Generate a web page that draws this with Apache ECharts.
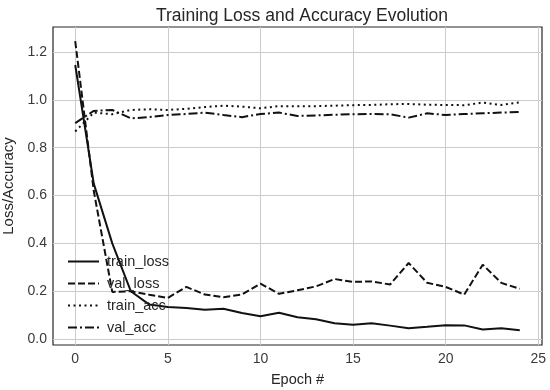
<!DOCTYPE html>
<html>
<head>
<meta charset="utf-8">
<script src="https://cdn.jsdelivr.net/npm/echarts@6/dist/echarts.min.js"></script>
<style>html,body{margin:0;padding:0;background:#fff}#c{width:550px;height:390px}</style>
</head>
<body>
<div id="c"></div>
<script>
const epochs = [0,1,2,3,4,5,6,7,8,9,10,11,12,13,14,15,16,17,18,19,20,21,22,23,24];
const trainLoss = [1.146,0.65,0.40,0.20,0.144,0.134,0.13,0.122,0.127,0.109,0.095,0.11,0.091,0.083,0.066,0.06,0.066,0.056,0.045,0.051,0.058,0.057,0.04,0.045,0.037];
const valLoss = [1.246,0.62,0.197,0.20,0.185,0.172,0.218,0.186,0.175,0.186,0.232,0.189,0.204,0.22,0.251,0.239,0.241,0.228,0.318,0.235,0.218,0.186,0.311,0.235,0.21];
const trainAcc = [0.868,0.947,0.94,0.958,0.961,0.958,0.963,0.97,0.976,0.972,0.965,0.974,0.974,0.974,0.976,0.978,0.979,0.982,0.983,0.98,0.979,0.978,0.989,0.979,0.99];
const valAcc = [0.903,0.954,0.958,0.923,0.928,0.937,0.941,0.947,0.937,0.928,0.941,0.947,0.933,0.935,0.938,0.94,0.941,0.94,0.926,0.944,0.937,0.941,0.944,0.947,0.95];
const xTicks = [0,5,10,15,20,25];
const yTicks = [0,0.2,0.4,0.6,0.8,1.0,1.2];
const seriesNames = ['train_loss','val_loss','train_acc','val_acc'];

const font = 'Liberation Sans, Arial, sans-serif';
const pair = arr => epochs.map((e,i)=>[e,arr[i]]);
const dashes = ['solid',[7,3],[2,3.5],[9,3,2,3]];
const datas = [trainLoss,valLoss,trainAcc,valAcc];

const chart = echarts.init(document.getElementById('c'), null, {renderer:'canvas'});
chart.setOption({
  animation:false,
  backgroundColor:'#fff',
  title:{text:'Training Loss and Accuracy Evolution',left:297,top:2,textAlign:'center',
    textStyle:{fontFamily:font,fontSize:17.5,fontWeight:'normal',color:'#262626'}},
  grid:{left:53,top:27,right:8,bottom:45,show:true,outerBoundsMode:'none',containLabel:false,
    borderColor:'#262626',borderWidth:1.2,backgroundColor:'transparent'},
  legend:{orient:'vertical',left:62,top:249,itemWidth:31,itemHeight:14,itemGap:7,
    data:seriesNames,
    itemStyle:{opacity:0},
    textStyle:{fontFamily:font,fontSize:14.5,color:'#262626',padding:[0,0,0,3]}},
  xAxis:{type:'value',min:-1.2,max:25.2,
    name:'Epoch #',nameLocation:'middle',nameGap:27,
    nameTextStyle:{fontFamily:font,fontSize:14.5,color:'#262626'},
    axisLine:{show:false},
    axisTick:{show:false,customValues:xTicks},
    axisLabel:{customValues:xTicks,fontFamily:font,fontSize:14,color:'#3a3a3a',margin:7},
    splitLine:{show:true,lineStyle:{color:'#cccccc',width:1}}},
  yAxis:{type:'value',min:-0.025,max:1.305,
    name:'Loss/Accuracy',nameLocation:'middle',nameGap:24,
    nameTextStyle:{fontFamily:font,fontSize:15,color:'#262626'},
    axisLine:{show:false},
    axisTick:{show:false,customValues:yTicks},
    axisLabel:{customValues:yTicks,fontFamily:font,fontSize:14,color:'#3a3a3a',margin:6,
      formatter:v=>v.toFixed(1)},
    splitLine:{show:true,lineStyle:{color:'#cccccc',width:1}}},
  series: seriesNames.map((n,i)=>({
    name:n,type:'line',data:pair(datas[i]),symbol:'none',showSymbol:false,
    lineStyle:{color:'#111',width:2,type:dashes[i]},
    itemStyle:{color:'#111'}
  }))
});
</script>
</body>
</html>
